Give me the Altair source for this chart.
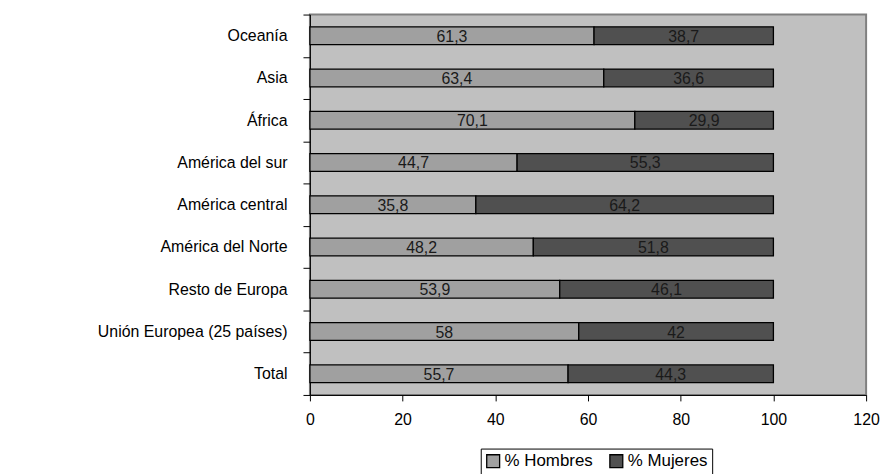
import altair as alt
import pandas as pd

categories = ["Oceanía", "Asia", "África", "América del sur", "América central",
              "América del Norte", "Resto de Europa", "Unión Europea (25 países)", "Total"]
hombres = [61.3, 63.4, 70.1, 44.7, 35.8, 48.2, 53.9, 58, 55.7]
mujeres = [38.7, 36.6, 29.9, 55.3, 64.2, 51.8, 46.1, 42, 44.3]
series = ["% Hombres", "% Mujeres"]
colors = ["#A0A0A0", "#505050"]
x_ticks = [0, 20, 40, 60, 80, 100, 120]

FONT = "Liberation Sans"

rows = []
for c, h, m in zip(categories, hombres, mujeres):
    rows.append({"region": c, "serie": series[0], "orden": 0, "valor": h})
    rows.append({"region": c, "serie": series[1], "orden": 1, "valor": m})
df = pd.DataFrame(rows)
df["etiqueta"] = df["valor"].map(lambda v: f"{v:g}".replace(".", ","))

base = alt.Chart(df).transform_stack(
    stack="valor", groupby=["region"], as_=["x0", "x1"],
    sort=[alt.SortField("orden", order="ascending")]
).transform_calculate(xm="(datum.x0 + datum.x1) / 2")

x_scale = alt.Scale(domain=[0, 120], nice=False, zero=True)
x_axis = alt.Axis(title=None, values=x_ticks, grid=False, tickSize=6, labelPadding=11,
                  labelFlush=False, labelOverlap=False, domainColor="black",
                  tickColor="black")
y_scale = alt.Scale(paddingInner=0, paddingOuter=0)
y_axis = alt.Axis(title=None, tickBand="extent", tickSize=7, labelPadding=16,
                  grid=False, domainColor="black", tickColor="black", labelLimit=400)

bars = base.mark_bar(height={"band": 0.42}, stroke="black", strokeWidth=1.3).encode(
    x=alt.X("x0:Q", scale=x_scale, axis=x_axis),
    x2="x1:Q",
    y=alt.Y("region:N", sort=categories, scale=y_scale, axis=y_axis),
    color=alt.Color(
        "serie:N",
        scale=alt.Scale(domain=series, range=colors),
        legend=alt.Legend(
            title=None, orient="none", legendX=172, legendY=437, direction="horizontal",
            strokeColor="black", fillColor="white", padding=4,
            symbolType="square", symbolSize=169, symbolStrokeColor="black",
            symbolStrokeWidth=1.3, labelFontSize=17, labelFont=FONT,
            labelColor="black", columnPadding=14, labelOffset=3,
        ),
    ),
)

text = base.mark_text(font=FONT, fontSize=16, color="#1a1a1a", baseline="middle", dy=1).encode(
    x=alt.X("xm:Q", scale=x_scale, axis=x_axis),
    y=alt.Y("region:N", sort=categories, scale=y_scale, axis=y_axis),
    text="etiqueta:N",
)

chart = (bars + text).properties(
    width=560, height=383,
    autosize=alt.AutoSizeParams(type="none"),
    padding={"left": 304, "top": 5, "right": 15, "bottom": 78},
).configure_view(
    fill="#C0C0C0", stroke="#808080", strokeWidth=2
).configure_axis(
    labelFont=FONT, labelFontSize=16, labelColor="black"
)

chart.save("out.html", embed_options={"renderer": "svg", "actions": False})
